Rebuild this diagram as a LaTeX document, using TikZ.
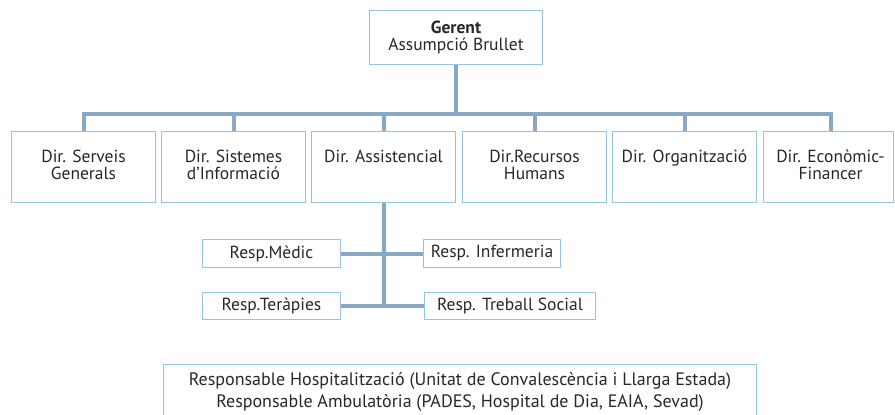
\documentclass[tikz,border=0pt]{standalone}
\usepackage{fontspec}
\setmainfont{PT Sans}
\definecolor{boxblue}{RGB}{150,198,222}
\definecolor{connblue}{RGB}{136,168,200}
\definecolor{txt}{RGB}{40,40,40}
\newcommand\dtop[3]{\parbox[c][#1pt][t]{#2pt}{\centering\rule{0pt}{31pt}#3}}
\begin{document}
\lineskiplimit=-20pt
\begin{tikzpicture}[x=1pt,y=-1pt,
  box/.style={draw=boxblue,line width=1pt,inner sep=0pt,fill=white,text=txt,anchor=north west,
    font=\fontsize{17.5}{17}\selectfont},
  dirbox/.style={box,minimum width=144pt,minimum height=71pt},
  respbox/.style={box,minimum height=28pt},
  conn/.style={draw=connblue,line width=4pt},
]
\useasboundingbox[fill=white] (0,0) rectangle (895,415);

\node[box,minimum width=173pt,minimum height=54pt,align=center] (g) at (369,10) {\textbf{Gerent}\\Assumpció Brullet};

\node[dirbox] (d1) at (11,131) {\dtop{71}{144}{Dir. Serveis\\Generals}};
\node[dirbox] (d2) at (161,131) {\dtop{71}{144}{Dir. Sistemes\\d’Informació}};
\node[dirbox] (d3) at (311,131) {\dtop{71}{144}{Dir. Assistencial}};
\node[dirbox] (d4) at (462,131) {\dtop{71}{144}{Dir.Recursos\\Humans}};
\node[dirbox] (d5) at (612,131) {\dtop{71}{144}{Dir. Organització}};
\node[dirbox,minimum width=130pt] (d6) at (763,131) {\hspace*{4pt}\dtop{71}{126}{Dir. Econòmic-\\Financer}};

\coordinate (bus) at (455,114);
\coordinate (d6top) at ([xshift=2pt]d6.north);
\draw[conn] (g.south) -- (g.south |- bus);
\draw[conn] (d1.north) -- (d1.north |- bus) -- (d6top |- bus) -- (d6top);
\foreach \n in {d2,d3,d4,d5} \draw[conn] (\n.north) -- (\n.north |- bus);

\node[respbox,minimum width=138pt] (m) at (202,239) {Resp.Mèdic};
\node[respbox,minimum width=137pt] (inf) at (423,239) {Resp. Infermeria};
\node[respbox,minimum width=138pt,minimum height=27pt] (ter) at (202,292) {Resp.Teràpies};
\node[respbox,minimum width=171pt,minimum height=27pt] (ts) at (424,292) {Resp. Treball Social};

\draw[conn] (d3.south) -- (d3.south |- ter.east);
\draw[conn] (m.east) -- (inf.west);
\draw[conn] (ter.east) -- (ts.west);

\node[box,minimum width=593pt,minimum height=70pt] (h) at (163,364) {\parbox[c][70pt][t]{593pt}{\centering\fontsize{18}{22}\selectfont\rule{0pt}{21pt}Responsable Hospitalització (Unitat de Convalescència i Llarga Estada)\\Responsable Ambulatòria (PADES, Hospital de Dia, EAIA, Sevad)}};
\end{tikzpicture}
\end{document}
